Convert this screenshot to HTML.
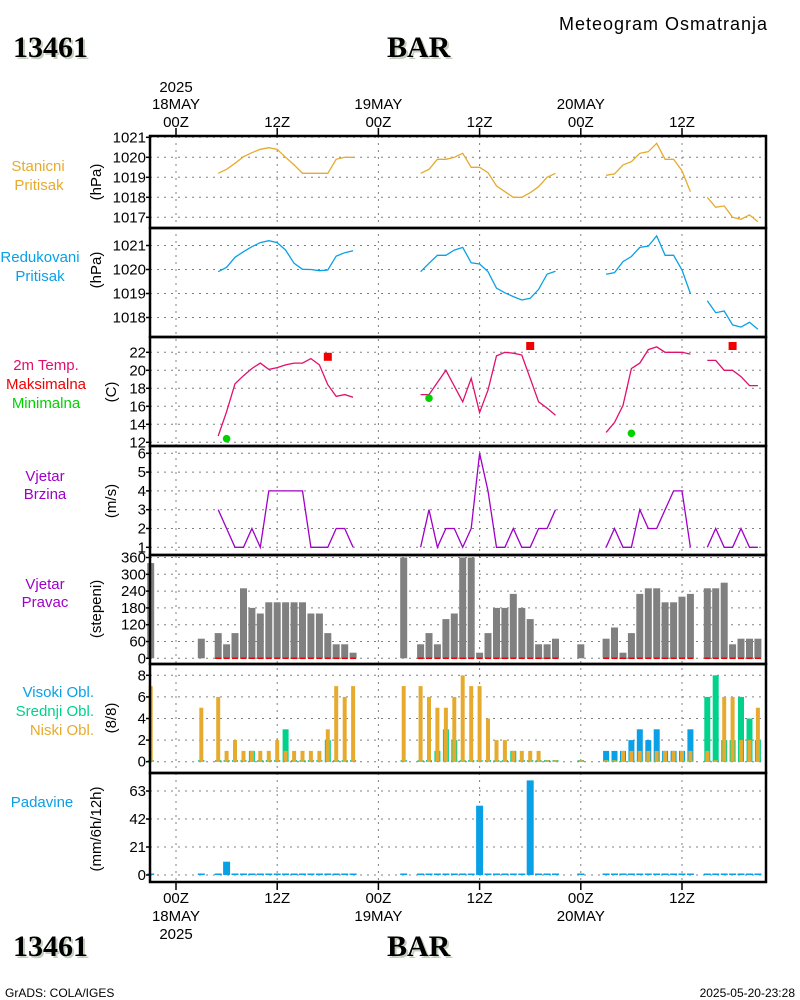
<!DOCTYPE html>
<html><head><meta charset="utf-8"><title>Meteogram Osmatranja 13461 BAR</title>
<style>
html,body{margin:0;padding:0;background:#fff;}
svg{display:block;font-family:"Liberation Sans",sans-serif;}
.tk{font-size:15px;fill:#000;}
.lab{font-size:15px;}
</style></head>
<body>
<svg id="chart" width="800" height="1000" viewBox="0 0 800 1000" xmlns="http://www.w3.org/2000/svg">
<rect x="0" y="0" width="800" height="1000" fill="#fff"/>
<g font-family="Liberation Serif,serif" font-weight="bold" font-size="30">
<text x="15" y="59" fill="#c3d0bd">13461</text><text x="13" y="57" fill="#000">13461</text>
<text x="389" y="59" fill="#c3d0bd">BAR</text><text x="387" y="57" fill="#000">BAR</text>
</g>
<text x="767" y="30" text-anchor="end" font-size="18" textLength="208">Meteogram Osmatranja</text>
<g font-family="Liberation Serif,serif" font-weight="bold" font-size="30">
<text x="15" y="958" fill="#c3d0bd">13461</text><text x="13" y="956" fill="#000">13461</text>
<text x="389" y="958" fill="#c3d0bd">BAR</text><text x="387" y="956" fill="#000">BAR</text>
</g>
<text x="5" y="997" font-size="12">GrADS: COLA/IGES</text>
<text x="795" y="997" font-size="12" text-anchor="end">2025-05-20-23:28</text>

<g class="lab" text-anchor="middle">
<text x="38" y="171" fill="#e6ab2e">Stanicni</text>
<text x="39" y="190" fill="#e6ab2e">Pritisak</text>
<text x="40" y="262" fill="#0aa0e6">Redukovani</text>
<text x="40" y="281" fill="#0aa0e6">Pritisak</text>
<text x="46" y="370" fill="#e0106e">2m Temp.</text>
<text x="46" y="389" fill="#f00000">Maksimalna</text>
<text x="46" y="408" fill="#00d200">Minimalna</text>
<text x="45" y="481" fill="#a000c8">Vjetar</text>
<text x="45" y="499" fill="#a000c8">Brzina</text>
<text x="45" y="589" fill="#a000c8">Vjetar</text>
<text x="45" y="607" fill="#a000c8">Pravac</text>
<text x="94" y="697" text-anchor="end" fill="#0aa0e6">Visoki Obl.</text>
<text x="94" y="716" text-anchor="end" fill="#00d28c">Srednji Obl.</text>
<text x="94" y="735" text-anchor="end" fill="#e6ab2e">Niski Obl.</text>
<text x="42" y="807" fill="#0aa0e6">Padavine</text>
</g>
<g class="lab" text-anchor="middle">
<text transform="translate(101,182) rotate(-90)">(hPa)</text>
<text transform="translate(101,270) rotate(-90)">(hPa)</text>
<text transform="translate(116,392) rotate(-90)">(C)</text>
<text transform="translate(116,501) rotate(-90)">(m/s)</text>
<text transform="translate(101,609) rotate(-90)">(stepeni)</text>
<text transform="translate(116,718) rotate(-90)">(8/8)</text>
<text transform="translate(101,829) rotate(-90)">(mm/6h/12h)</text>
</g>
<g id="grid"></g>
<g id="marks"></g>
<g id="frames"></g>
<g id="ticks"></g>
</svg>
<script>
// ---- data (index i -> hour i-3 relative to 00Z 18MAY 2025) ----
const N = null;
const hourStart = -3;
const stationPressure = [N,N,N,N,N,N,N,N,
 1019.2,1019.4,1019.7,1020.03,1020.23,1020.4,1020.48,1020.4,1020.0,1019.62,1019.2,1019.2,1019.2,1019.2,1019.9,1020.0,1020.0,
 N,N,N,N,N,N,N,
 1019.2,1019.4,1019.9,1019.9,1020.0,1020.2,1019.5,1019.5,1019.23,1018.57,1018.28,1018.0,1018.0,1018.23,1018.53,1019.0,1019.2,
 N,N,N,N,N,
 1019.1,1019.17,1019.62,1019.78,1020.2,1020.28,1020.7,1019.9,1019.9,1019.33,1018.28,
 N,
 1018.0,1017.5,1017.57,1017.0,1016.9,1017.12,1016.78,N];
const reducedPressure = [N,N,N,N,N,N,N,N,
 1019.91,1020.09,1020.51,1020.74,1020.95,1021.12,1021.2,1021.12,1020.81,1020.26,1020.01,1020.0,1019.95,1019.98,1020.56,1020.7,1020.78,
 N,N,N,N,N,N,N,
 1019.91,1020.26,1020.59,1020.59,1020.81,1020.92,1020.28,1020.23,1019.91,1019.22,1019.03,1018.87,1018.73,1018.8,1019.17,1019.81,1019.93,
 N,N,N,N,N,
 1019.8,1019.87,1020.33,1020.54,1020.92,1020.97,1021.4,1020.59,1020.59,1019.98,1019.0,
 N,
 1018.7,1018.2,1018.27,1017.69,1017.6,1017.8,1017.51,N];
const temperature = [N,N,N,N,N,N,N,N,
 12.7,15.4,18.5,19.4,20.2,20.8,20.1,20.3,20.6,20.8,20.8,21.3,20.6,18.4,17.1,17.3,17.0,
 N,N,N,N,N,N,N,
 17.3,17.3,18.65,20.0,18.25,16.5,19.1,15.3,17.8,21.6,22.0,21.9,21.7,19.1,16.5,15.8,15.0,
 N,N,N,N,N,
 13.1,14.2,16.1,20.2,20.8,22.3,22.6,22.0,22.0,22.0,21.8,
 N,
 21.1,21.1,20.0,20.0,19.3,18.3,18.3,N];
const tmaxHours = [18,42,66];
const tmaxValues = [21.5,22.7,22.7];
const tminHours = [6,30,54];
const tminValues = [12.4,16.9,13.0];
const windSpeed = [N,N,N,N,N,N,N,N,
 3,2,1,1,2,1,4,4,4,4,4,1,1,1,2,2,1,
 N,N,N,N,N,N,N,
 1,3,1,2,2,1,2,6,4,1,1,2,1,1,2,2,3,
 N,N,N,N,N,
 1,2,1,1,3,2,2,3,4,4,1,
 N,
 1,2,1,1,2,1,1,N];
const windDir = [340,N,N,N,N,N,70,N,
 90,50,90,250,180,160,200,200,200,200,200,160,160,90,50,50,20,
 N,N,N,N,N,360,N,
 50,90,50,140,160,360,360,20,90,180,180,230,180,140,50,50,70,
 N,N,50,N,N,
 70,110,20,90,230,250,250,200,200,220,230,
 N,
 250,250,270,50,70,70,70,N];
const cloudLow = [7,N,N,N,N,N,5,N,
 6,1,2,1,1,1,1,2,1,1,1,1,1,3,7,6,7,
 N,N,N,N,N,7,N,
 7,6,5,5,6,8,7,7,4,2,2,1,1,1,1,0,0,
 N,N,0,N,N,
 0,0,1,1,1,1,1,1,1,1,1,
 N,
 1,0,6,6,2,2,5,N];
const cloudMid = [0,N,N,N,N,N,0,N,
 0,0,0,0,1,0,0,0,3,0,0,0,0,2,0,0,0,
 N,N,N,N,N,0,N,
 0,0,1,3,2,0,0,0,0,0,0,1,0,0,0,0,0,
 N,N,0,N,N,
 0,0,0,0,0,0,0,0,0,0,0,
 N,
 6,8,2,2,6,4,2,N];
const cloudHigh = [0,N,N,N,N,N,0,N,
 0,0,0,0,0,0,0,0,0,0,0,0,0,0,0,0,0,
 N,N,N,N,N,0,N,
 0,0,0,0,0,0,0,0,0,0,0,0,0,0,0,0,0,
 N,N,0,N,N,
 1,1,1,2,3,2,3,1,1,1,3,
 N,
 0,0,0,0,0,0,0,N];
const precip = [0,N,N,N,N,N,0,N,
 0,10,0,0,0,0,0,0,0,0,0,0,0,0,0,0,0,
 N,N,N,N,N,0,N,
 0,0,0,0,0,0,0,52,0,0,0,0,0,71,0,0,0,
 N,N,0,N,N,
 0,0,0,0,0,0,0,0,0,0,0,
 N,
 0,0,0,0,0,0,0,N];
const p1Ticks = [1017,1018,1019,1020,1021];
const p2Ticks = [1018,1019,1020,1021];
const p3Ticks = [12,14,16,18,20,22];
const p4Ticks = [1,2,3,4,5,6];
const p5Ticks = [0,60,120,180,240,300,360];
const p6Ticks = [0,2,4,6,8];
const p7Ticks = [0,21,42,63];
const timeTickHours = [0,12,24,36,48,60];
const timeTickLabels = ["00Z","12Z","00Z","12Z","00Z","12Z"];
const dateLabels = ["18MAY","","19MAY","","20MAY",""];

// ---- scales ----
const X0 = 150, X1 = 766;
function xOf(h){ return 176 + h*101.2/12; }
function lin(v0,y0,ppu){ return v => y0 - (v-v0)*ppu; }
const panels = [
 {top:136,bot:228,y:lin(1021,137.3,20),ticks:p1Ticks,name:'station-pressure'},
 {top:228,bot:337,y:lin(1021,245.5,24),ticks:p2Ticks,name:'reduced-pressure'},
 {top:337,bot:446,y:lin(22,352.3,9),ticks:p3Ticks,name:'temperature'},
 {top:446,bot:555,y:lin(1,547.3,18.8),ticks:p4Ticks,name:'wind-speed'},
 {top:555,bot:664,y:lin(0,658.3,0.28),ticks:p5Ticks,name:'wind-direction'},
 {top:664,bot:773,y:lin(0,761.7,10.8),ticks:p6Ticks,name:'clouds'},
 {top:773,bot:882,y:lin(0,875,1.333),ticks:p7Ticks,name:'precipitation'}
];
const NS='http://www.w3.org/2000/svg';
function mk(parent,tag,attrs){const e=document.createElementNS(NS,tag);for(const k in attrs)e.setAttribute(k,attrs[k]);parent.appendChild(e);return e;}
const G=document.getElementById('grid'),M=document.getElementById('marks'),F=document.getElementById('frames'),T=document.getElementById('ticks');

panels.forEach(p=>{
 p.ticks.forEach(v=>{
  const y=p.y(v);
  const gl=mk(G,'line',{x1:X0,x2:X1,y1:y,y2:y,stroke:'#808080','stroke-width':1,'stroke-dasharray':'2,5'});
  
  
  const tl=mk(T,'line',{x1:X0-4,x2:X0,y1:y,y2:y,stroke:'#000','stroke-width':1.5});
  
  
  const tx=mk(T,'text',{x:X0-4,y:y+5,'text-anchor':'end','class':'tk'});
  tx.textContent=String(v);
  
  
 });
 const fr=mk(F,'rect',{x:X0,y:p.top,width:X1-X0,height:p.bot-p.top,fill:'none',stroke:'#000','stroke-width':2.5});
 
 
});
timeTickHours.forEach((h,i)=>{
 const x=xOf(h);
 const vl=mk(G,'line',{x1:x,x2:x,y1:136,y2:882,stroke:'#808080','stroke-width':1,'stroke-dasharray':'2,5'});
 
 
 [[128,136],[882,890]].forEach(([a,b])=>{
  const t=mk(T,'line',{x1:x,x2:x,y1:a,y2:b,stroke:'#000','stroke-width':1.5});
  
  
 });
 const t1=mk(T,'text',{x:x,y:127,'text-anchor':'middle','class':'tk'});t1.textContent=timeTickLabels[i];
 
 
 const t2=mk(T,'text',{x:x,y:903,'text-anchor':'middle','class':'tk'});t2.textContent=timeTickLabels[i];
 
 
 if(dateLabels[i]){
  const d1=mk(T,'text',{x:x,y:109,'text-anchor':'middle','class':'tk'});d1.textContent=dateLabels[i];
  
  
  const d2=mk(T,'text',{x:x,y:921,'text-anchor':'middle','class':'tk'});d2.textContent=dateLabels[i];
  
  
 }
});
const yr1=mk(T,'text',{x:xOf(0),y:92,'text-anchor':'middle','class':'tk'});yr1.textContent='2025';


const yr2=mk(T,'text',{x:xOf(0),y:939,'text-anchor':'middle','class':'tk'});yr2.textContent='2025';



function drawLine(arr,p,color,name){
 let d='',pen=false;
 arr.forEach((v,i)=>{
  if(v===null){pen=false;return;}
  const x=xOf(i+hourStart),y=p.y(v);
  d+=(pen?'L':'M')+x.toFixed(1)+','+y.toFixed(1);pen=true;
 });
 const e=mk(M,'path',{d:d,fill:'none',stroke:color,'stroke-width':1.3});
 
 
}
drawLine(stationPressure,panels[0],'#e6ab2e','station-pressure-line');
drawLine(reducedPressure,panels[1],'#0aa0e6','reduced-pressure-line');
drawLine(temperature,panels[2],'#e0106e','temperature-line');
drawLine(windSpeed,panels[3],'#a000c8','wind-speed-line');
tmaxHours.forEach((h,i)=>{
 const e=mk(M,'rect',{x:xOf(h)-4,y:panels[2].y(tmaxValues[i])-4,width:8,height:8,fill:'#f00000'});
 
 
});
tminHours.forEach((h,i)=>{
 const e=mk(M,'circle',{cx:xOf(h),cy:panels[2].y(tminValues[i]),r:3.8,fill:'#00d200'});
 
 
});
function drawBars(arr,p,color,w,name){
 arr.forEach((v,i)=>{
  if(v===null)return;
  const x=xOf(i+hourStart),y0=p.y(0);
  let y=Math.max(p.y(v),p.top+1);
  let h=y0-y; if(h<1.5){h=1.5;y=y0-1.5;}
  const e=mk(M,'rect',{x:(x-w/2).toFixed(1),y:y.toFixed(1),width:w,height:h.toFixed(1),fill:color});
  
  
 });
}
drawBars(windDir,panels[4],'#808080',7,'wind-direction-bar');
windSpeed.forEach((v,i)=>{
 if(v===null)return;
 const x=xOf(i+hourStart);
 const e=mk(M,'line',{x1:x-3,x2:x+3,y1:panels[4].y(0),y2:panels[4].y(0),stroke:'#f00000','stroke-width':1.5});
 
 
});
drawBars(cloudHigh,panels[5],'#0aa0e6',6,'cloud-high-bar');
drawBars(cloudMid,panels[5],'#00d28c',6,'cloud-mid-bar');
drawBars(cloudLow,panels[5],'#e6ab2e',4,'cloud-low-bar');
drawBars(precip,panels[6],'#0aa0e6',7,'precipitation-bar');
</script>
</body></html>
